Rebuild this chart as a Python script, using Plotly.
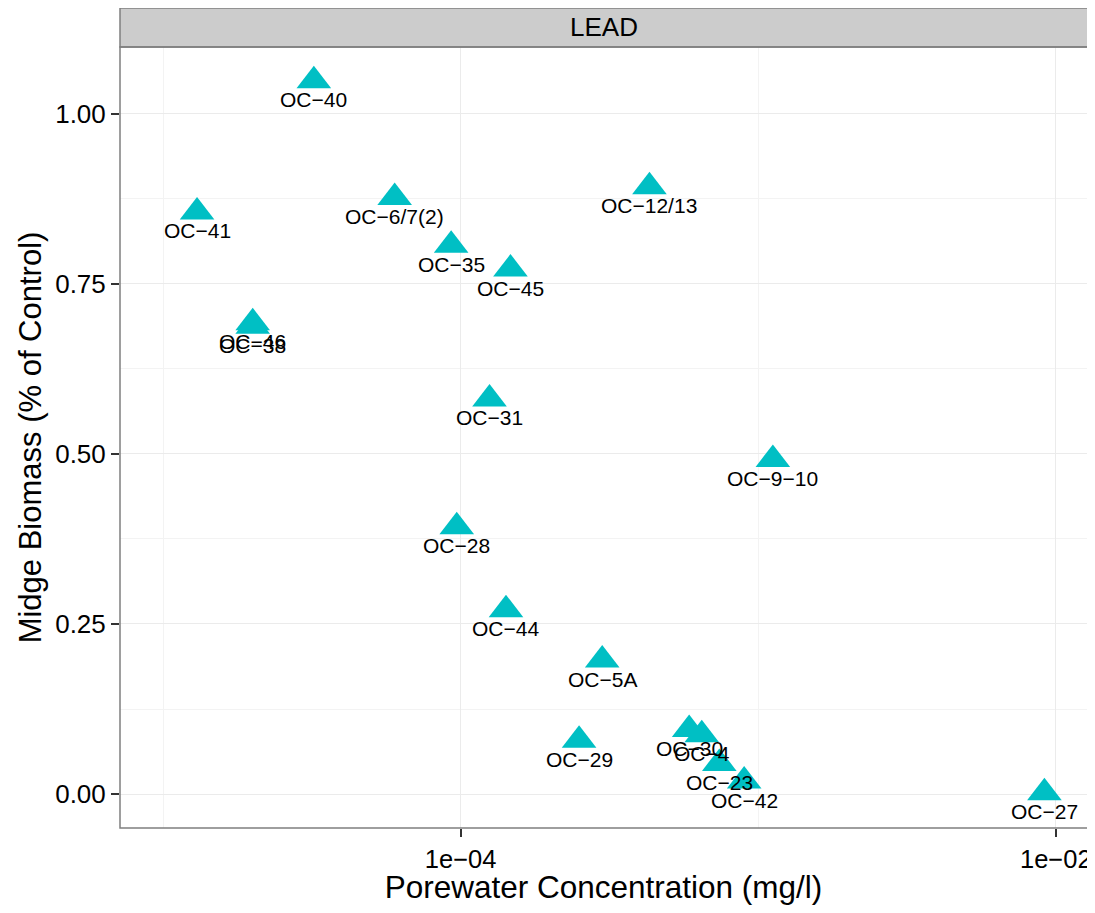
import math
import plotly.graph_objects as go

# Midge biomass vs porewater lead concentration, one point per site
sites = ['OC\u221240', 'OC\u221241', 'OC\u22126/7(2)', 'OC\u221212/13', 'OC\u221235',
         'OC\u221245', 'OC\u221246', 'OC\u221238', 'OC\u221231', 'OC\u22129\u221210',
         'OC\u221228', 'OC\u221244', 'OC\u22125A', 'OC\u221229', 'OC\u221230',
         'OC\u22124', 'OC\u221223', 'OC\u221242', 'OC\u221227']
conc = [3.21e-5, 1.30e-5, 6.00e-5, 4.31e-4, 9.29e-5,
        1.47e-4, 2.00e-5, 2.00e-5, 1.25e-4, 1.12e-3,
        9.70e-5, 1.42e-4, 2.99e-4, 2.50e-4, 5.86e-4,
        6.46e-4, 7.40e-4, 8.97e-4, 9.16e-3]
biomass = [1.049, 0.856, 0.877, 0.893, 0.807,
           0.772, 0.693, 0.688, 0.581, 0.492,
           0.393, 0.271, 0.197, 0.079, 0.095,
           0.087, 0.045, 0.019, 0.002]

x_ticks = [1e-4, 1e-2]
x_ticktext = ['1e\u221204', '1e\u221202']
x_minor = [1e-5, 1e-3]
y_ticks = [0, 0.25, 0.5, 0.75, 1.0]
y_ticktext = ['0.00', '0.25', '0.50', '0.75', '1.00']
y_minor = [0.125, 0.375, 0.625, 0.875]

FONT = 'Liberation Sans, Arial, Helvetica, sans-serif'
TEAL = '#00BFC4'
BORDER = '#7f7f7f'

fig = go.Figure()

fig.add_trace(go.Scatter(
    x=conc, y=biomass,
    mode='markers',
    marker=dict(symbol='triangle-up', size=30, color=TEAL),
    text=sites,
    hoverinfo='text+x+y',
))

# site labels sit just under each triangle
for s, cx, by in zip(sites, conc, biomass):
    fig.add_annotation(
        x=math.log10(cx), y=by, text=s,
        showarrow=False, yshift=-19,
        font=dict(family=FONT, size=21, color='black'),
    )

# facet strip
fig.add_shape(type='rect', xref='paper', yref='paper',
              x0=0, x1=1.01, y0=1, y1=1.0499,
              fillcolor='#cccccc', line=dict(color=BORDER, width=1.5))
fig.add_annotation(xref='paper', yref='paper', x=0.5, y=1.0255,
                   text='LEAD', showarrow=False, yanchor='middle',
                   font=dict(family=FONT, size=26, color='black'))

# panel border
fig.add_shape(type='rect', xref='paper', yref='paper',
              x0=0, x1=1.01, y0=0, y1=1,
              line=dict(color=BORDER, width=1.5), layer='above')

fig.update_xaxes(
    type='log', range=[-5.145, -1.895],
    tickvals=x_ticks, ticktext=x_ticktext,
    ticks='outside', ticklen=8, tickwidth=1.5, tickcolor='#333333',
    tickfont=dict(family=FONT, size=25.5, color='black'),
    ticklabeloverflow='allow',
    showgrid=True, gridcolor='#ebebeb', gridwidth=1.2,
    minor=dict(tickvals=x_minor, showgrid=True, gridcolor='#f3f3f3',
               gridwidth=0.7, ticks=''),
    zeroline=False, showline=False,
    title=dict(text='Porewater Concentration (mg/l)',
               font=dict(family=FONT, size=31.5, color='black'), standoff=4),
)
fig.update_yaxes(
    range=[-0.05, 1.0985],
    tickvals=y_ticks, ticktext=y_ticktext,
    ticks='outside', ticklen=8, tickwidth=1.5, tickcolor='#333333',
    tickfont=dict(family=FONT, size=26, color='black'),
    showgrid=True, gridcolor='#ebebeb', gridwidth=1.2,
    minor=dict(tickvals=y_minor, showgrid=True, gridcolor='#f3f3f3',
               gridwidth=0.7, ticks=''),
    zeroline=False, showline=False,
    title=dict(text='Midge Biomass (% of Control)',
               font=dict(family=FONT, size=31, color='black'), standoff=4),
)

# the page body adds an 8px margin on every side, so the figure is trimmed
# to keep the page from scrolling
fig.update_layout(
    width=1079, height=897,
    margin=dict(l=112, r=0, t=39, b=77, autoexpand=False),
    plot_bgcolor='white', paper_bgcolor='white',
    showlegend=False,
    font=dict(family=FONT, color='black'),
)

fig.write_html('out.html')
